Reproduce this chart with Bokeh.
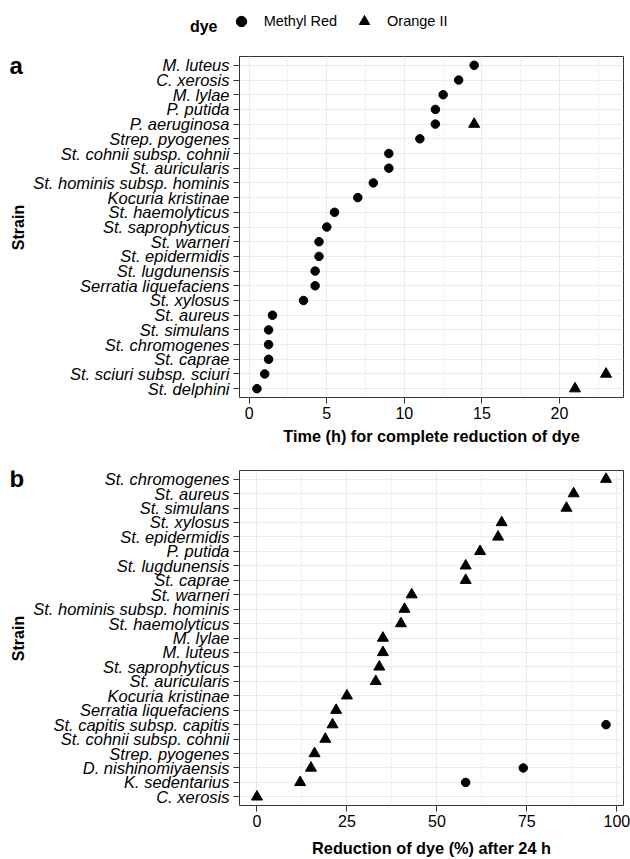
import numpy as np
from bokeh.plotting import figure
from bokeh.models import (ColumnDataSource, FactorRange, Range1d, FixedTicker,
                          Label, Legend, LegendItem)
from bokeh.layouts import column, row
from bokeh.embed import file_html
from bokeh.resources import INLINE

# ---------------- data (top-to-bottom order as displayed) ----------------
strains_a = [
    "M. luteus", "C. xerosis", "M. lylae", "P. putida", "P. aeruginosa",
    "Strep. pyogenes", "St. cohnii subsp. cohnii", "St. auricularis",
    "St. hominis subsp. hominis", "Kocuria kristinae", "St. haemolyticus",
    "St. saprophyticus", "St. warneri", "St. epidermidis", "St. lugdunensis",
    "Serratia liquefaciens", "St. xylosus", "St. aureus", "St. simulans",
    "St. chromogenes", "St. caprae", "St. sciuri subsp. sciuri", "St. delphini",
]
methyl_red_a = [14.5, 13.5, 12.5, 12.0, 12.0, 11.0, 9.0, 9.0, 8.0, 7.0, 5.5,
                5.0, 4.5, 4.5, 4.25, 4.25, 3.5, 1.5, 1.25, 1.25, 1.25, 1.0, 0.5]
orange_a = [None, None, None, None, 14.5, None, None, None, None, None, None,
            None, None, None, None, None, None, None, None, None, None, 23.0, 21.0]

strains_b = [
    "St. chromogenes", "St. aureus", "St. simulans", "St. xylosus",
    "St. epidermidis", "P. putida", "St. lugdunensis", "St. caprae",
    "St. warneri", "St. hominis subsp. hominis", "St. haemolyticus", "M. lylae",
    "M. luteus", "St. saprophyticus", "St. auricularis", "Kocuria kristinae",
    "Serratia liquefaciens", "St. capitis subsp. capitis",
    "St. cohnii subsp. cohnii", "Strep. pyogenes", "D. nishinomiyaensis",
    "K. sedentarius", "C. xerosis",
]
methyl_red_b = [None, None, None, None, None, None, None, None, None, None, None,
                None, None, None, None, None, None, 97, None, None, 74, 58, None]
orange_b = [97, 88, 86, 68, 67, 62, 58, 58, 43, 41, 40, 35, 35, 34, 33, 25, 22,
            21, 19, 16, 15, 12, 0]

x_ticks_a = [0, 5, 10, 15, 20]
x_ticks_b = [0, 25, 50, 75, 100]

title_a = "Time (h) for complete reduction of dye"
title_b = "Reduction of dye (%) after 24 h"
y_title = "Strain"
legend_title = "dye"
series_names = ["Methyl Red", "Orange II"]
panel_letters = ["a", "b"]

FONT = "Liberation Sans"
GRID = "#EBEBEB"
DARK = "#333333"

W_TOTAL = 630
W_LETTER = 26
W_PANEL = W_TOTAL - W_LETTER
LEFT = 213
RIGHT = 7
LEG_H = 40
H_A, TOP_A, BOT_A = 416, 16, 59
H_B, TOP_B, BOT_B = 403, 14, 54


def pts(strains, vals):
    xs, ys = [], []
    for s, v in zip(strains, vals):
        if v is not None:
            xs.append(v)
            ys.append(s)
    return ColumnDataSource(dict(x=xs, y=ys))


def blank_fig(width, height, top=0, bottom=0):
    f = figure(width=width, height=height, x_range=Range1d(0, 1),
               y_range=Range1d(0, 1), x_axis_location=None,
               y_axis_location=None, output_backend="svg",
               toolbar_location=None, min_border=0,
               min_border_top=top, min_border_bottom=bottom)
    f.outline_line_color = None
    f.grid.visible = False
    f.background_fill_color = "white"
    f.border_fill_color = "white"
    return f


def make_panel(strains, mr, oi, ticks, height, min_top, min_bottom):
    factors = list(reversed(strains))
    vals = [v for v in mr + oi if v is not None]
    lo, hi = min(vals), max(vals)
    pad = 0.05 * (hi - lo)
    p = figure(width=W_PANEL, height=height,
               y_range=FactorRange(factors=factors, range_padding=0.1,
                                   range_padding_units="absolute"),
               x_range=Range1d(lo - pad, hi + pad),
               output_backend="svg", toolbar_location=None,
               min_border_left=LEFT, min_border_right=RIGHT,
               min_border_top=min_top, min_border_bottom=min_bottom)
    p.background_fill_color = "white"
    p.border_fill_color = "white"
    p.outline_line_color = DARK
    p.outline_line_width = 1

    step = ticks[1] - ticks[0]
    minor = [t + step / 2 for t in ticks]
    p.xaxis.ticker = FixedTicker(ticks=ticks, minor_ticks=minor)
    for ax in (p.xaxis[0], p.yaxis[0]):
        ax.axis_line_color = None
        ax.major_tick_line_color = DARK
        ax.major_tick_out = 6
        ax.major_tick_in = 0
        ax.minor_tick_out = 0
        ax.minor_tick_in = 0
        ax.major_label_text_font = FONT
        ax.major_label_text_color = "black"
    p.xaxis.major_label_text_font_size = "16px"
    p.yaxis.major_label_text_font_size = "16.5px"
    p.xaxis.major_label_standoff = 3
    p.yaxis.major_label_standoff = 4
    p.yaxis.major_label_text_font_style = "italic"

    p.xaxis.axis_label_text_font = FONT
    p.xaxis.axis_label_text_font_size = "16.3px"
    p.xaxis.axis_label_text_font_style = "bold"
    p.xaxis.axis_label_text_color = "black"

    p.xgrid.grid_line_color = GRID
    p.xgrid.grid_line_width = 1.2
    p.xgrid.minor_grid_line_color = GRID
    p.xgrid.minor_grid_line_width = 0.6
    p.ygrid.grid_line_color = GRID
    p.ygrid.grid_line_width = 1.2

    p.scatter(x="x", y="y", source=pts(strains, mr), marker="circle",
              size=8.5, color="black")
    p.scatter(x="x", y="y", source=pts(strains, oi), marker="triangle",
              size=11, color="black")
    return p


def letter_strip(height, top, bottom, letter, letter_y, strain_y):
    f = blank_fig(W_LETTER, height, top, bottom)
    f.add_layout(Label(x=9, y=letter_y, x_units="screen", y_units="screen",
                       text=letter, text_align="left", text_baseline="alphabetic",
                       text_font=FONT, text_font_size="24px",
                       text_font_style="bold", text_color="black"))
    f.add_layout(Label(x=18, y=strain_y, x_units="screen", y_units="screen",
                       text=y_title, angle=np.pi / 2, text_align="center",
                       text_baseline="middle", text_font=FONT,
                       text_font_size="16px", text_font_style="bold",
                       text_color="black"))
    return f


# ---------------- legend strip ----------------
leg = blank_fig(W_TOTAL, LEG_H)
key_src = ColumnDataSource(dict(x=[np.nan], y=[np.nan]))
key_mr = leg.scatter(x="x", y="y", source=key_src, marker="circle",
                     size=10, color="black")
key_oi = leg.scatter(x="x", y="y", source=key_src, marker="triangle",
                     size=11, color="black")
legend = Legend(items=[LegendItem(label=series_names[0], renderers=[key_mr]),
                       LegendItem(label=series_names[1], renderers=[key_oi])],
                orientation="horizontal", location=(227.7, 6),
                padding=0, margin=0, spacing=14, label_standoff=10,
                glyph_width=26, glyph_height=26, border_line_color=None,
                background_fill_alpha=0, label_text_font=FONT,
                label_text_font_size="14.5px", label_text_color="black")
leg.add_layout(legend, "center")
leg.add_layout(Label(x=217, y=14.4, x_units="screen", y_units="screen",
                     text=legend_title, text_align="right",
                     text_baseline="alphabetic", text_font=FONT,
                     text_font_size="16px", text_font_style="bold",
                     text_color="black"))

# ---------------- panel a ----------------
pa = make_panel(strains_a, methyl_red_a, orange_a, x_ticks_a, H_A, TOP_A, BOT_A)
pa.xaxis.axis_label = title_a
pa.xaxis.axis_label_standoff = 5
la = letter_strip(H_A, TOP_A, BOT_A, panel_letters[0], 332, 170)

# ---------------- panel b ----------------
pb = make_panel(strains_b, methyl_red_b, orange_b, x_ticks_b, H_B, TOP_B, BOT_B)
pb.xaxis.axis_label = title_b
pb.xaxis.axis_label_standoff = 9
lb = letter_strip(H_B, TOP_B, BOT_B, panel_letters[1], 327, 167)

layout = column(leg, row(la, pa, spacing=0), row(lb, pb, spacing=0), spacing=0)
open("out.html", "w").write(file_html(layout, INLINE))
